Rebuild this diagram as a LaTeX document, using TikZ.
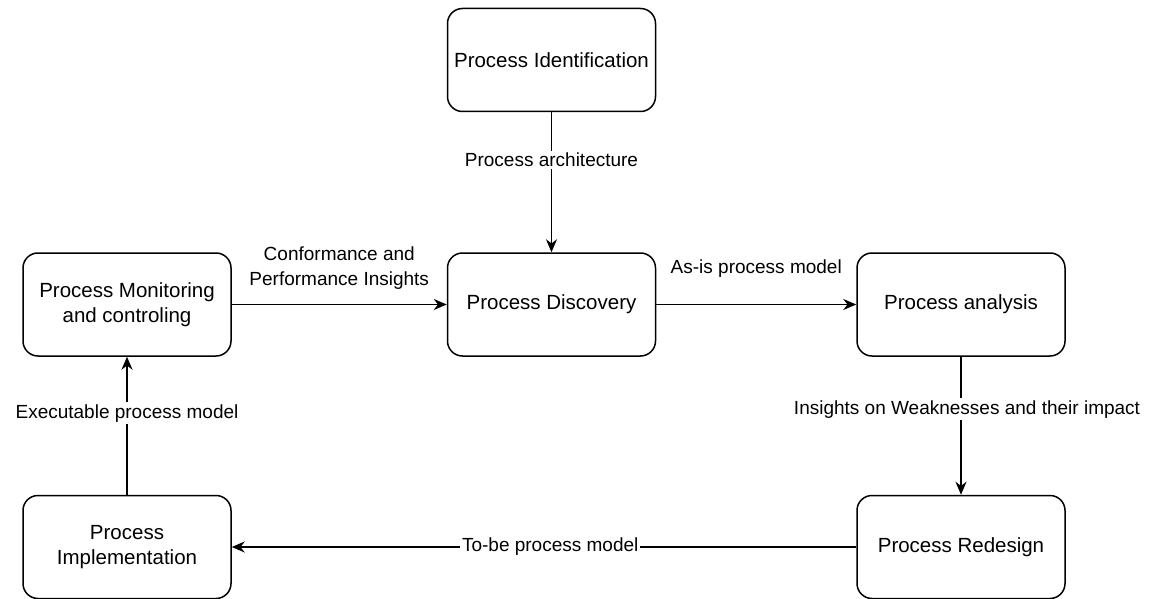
\documentclass[tikz,border=0pt]{standalone}
\usepackage{fontspec}
\setmainfont{Liberation Sans}
\usetikzlibrary{positioning, arrows.meta}

\begin{document}
\begin{tikzpicture}[
		x=1pt, y=1pt,
		phase/.style={draw, rounded corners=15pt, line width=1.5pt, minimum width=208pt, minimum height=103pt, align=center, font=\fontsize{20.5}{25}\selectfont},
		flow/.style={-{Stealth[length=13pt, width=11pt]}, line width=1.5pt},
		lbl/.style={font=\fontsize{19}{25}\selectfont, align=center, fill=white, inner sep=2pt}
		]
		\useasboundingbox (0,0) rectangle (1157,-599);
		% Lifecycle phases

		\node[phase] (discovery) at (551.5,-304.5) {Process Discovery};
		\node[phase, above=140pt of discovery] (identification) {Process Identification};
		\node[phase, left=215pt of discovery] (monitoring) {Process Monitoring\\and controling};
		\node[phase, right=200pt of discovery] (analysis) {Process analysis};
		\node[phase, below=138pt of monitoring] (implementation) {Process\\Implementation};
		\node[phase, below=138pt of analysis] (redesign) {Process Redesign};

		\draw[flow] (identification) -- node[lbl, pos=0.34] {Process architecture} (discovery);
		\draw[flow] (monitoring) -- node[lbl, above=12pt] {Conformance and\\Performance Insights} (discovery);
		\draw[flow] (discovery) -- node[lbl, above=24pt] {As-is process model} (analysis);
		\draw[flow] (analysis) -- node[lbl, pos=0.38, xshift=6pt] {Insights on Weaknesses and their impact} (redesign);
		\draw[flow] (redesign) -- node[lbl, pos=0.49] {To-be process model} (implementation);
		\draw[flow] (implementation) -- node[lbl, pos=0.59] {Executable process model} (monitoring);

	\end{tikzpicture}
\end{document}
